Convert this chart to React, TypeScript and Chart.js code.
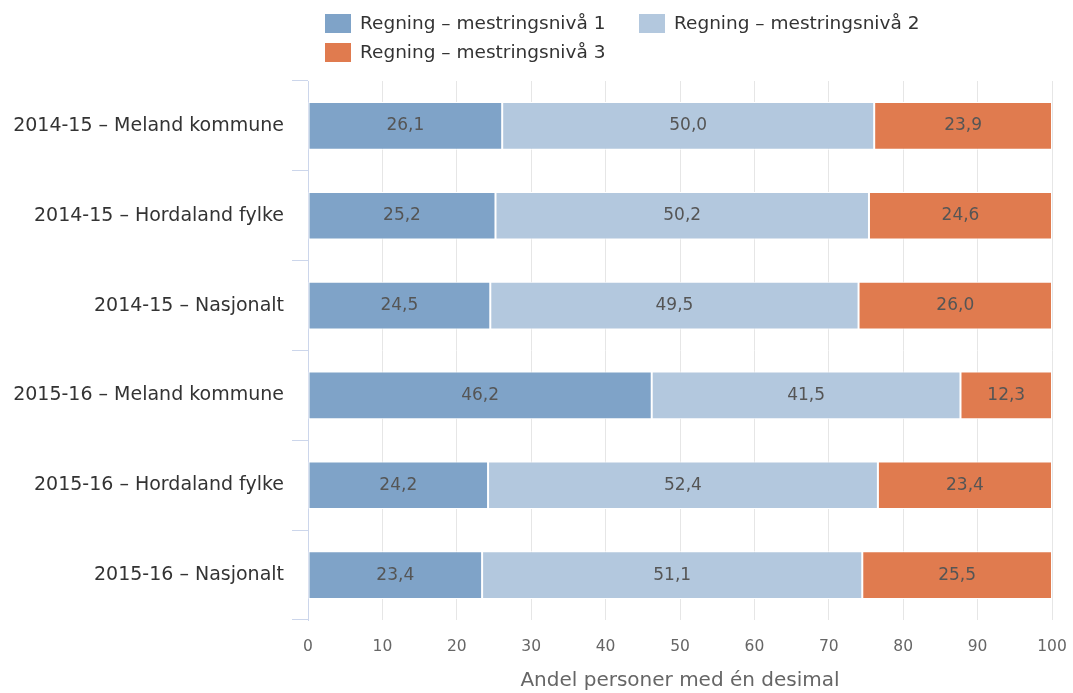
import { useEffect, useRef } from "react";
import { Chart, registerables } from "chart.js";

Chart.register(...registerables);

const categories = [
  "2014-15 – Meland kommune",
  "2014-15 – Hordaland fylke",
  "2014-15 – Nasjonalt",
  "2015-16 – Meland kommune",
  "2015-16 – Hordaland fylke",
  "2015-16 – Nasjonalt",
];
const seriesNames = [
  "Regning – mestringsnivå 1",
  "Regning – mestringsnivå 2",
  "Regning – mestringsnivå 3",
];
const level1 = [26.1, 25.2, 24.5, 46.2, 24.2, 23.4];
const level2 = [50.0, 50.2, 49.5, 41.5, 52.4, 51.1];
const level3 = [23.9, 24.6, 26.0, 12.3, 23.4, 25.5];
const seriesColors = ["#7fa3c8", "#b3c8de", "#e07b4f"];
const xAxisTitle = "Andel personer med én desimal";

const FONT = "'DejaVu Sans', sans-serif";

const legendPlugin = {
  id: "customLegend",
  afterDraw(chart: any) {
    const ctx = chart.ctx;
    const items = chart.data.datasets.map((d: any) => ({ label: d.label, color: d.backgroundColor }));
    const positions = [
      { x: 325, y: 14 },
      { x: 639, y: 14 },
      { x: 325, y: 43 },
    ];
    ctx.save();
    ctx.font = `18.5px ${FONT}`;
    ctx.textBaseline = "middle";
    ctx.textAlign = "left";
    items.forEach((it: any, i: number) => {
      const p = positions[i];
      ctx.fillStyle = it.color;
      ctx.fillRect(p.x, p.y, 26, 19);
      ctx.fillStyle = "#333333";
      ctx.fillText(it.label, p.x + 35, p.y + 10);
    });
    ctx.restore();
  },
};

const dataLabelPlugin = {
  id: "dataLabels",
  afterDatasetsDraw(chart: any) {
    const ctx = chart.ctx;
    ctx.save();
    ctx.font = `17px ${FONT}`;
    ctx.textAlign = "center";
    ctx.textBaseline = "middle";
    ctx.fillStyle = "#555555";
    chart.data.datasets.forEach((ds: any, di: number) => {
      const meta = chart.getDatasetMeta(di);
      meta.data.forEach((el: any, i: number) => {
        const v = ds.data[i] as number;
        const txt = v.toFixed(1).replace(".", ",");
        ctx.fillText(txt, (el.x + el.base) / 2, el.y);
      });
    });
    ctx.restore();
  },
};

export default function App() {
  const canvasRef = useRef<HTMLCanvasElement | null>(null);

  useEffect(() => {
    document.body.style.margin = "0";
    const canvas = canvasRef.current!;
    const chart = new Chart(canvas, {
      type: "bar",
      data: {
        labels: categories,
        datasets: [
          { label: seriesNames[0], data: level1, backgroundColor: seriesColors[0] },
          { label: seriesNames[1], data: level2, backgroundColor: seriesColors[1] },
          { label: seriesNames[2], data: level3, backgroundColor: seriesColors[2] },
        ].map((d) => ({
          ...d,
          borderColor: "#ffffff",
          borderWidth: 1,
          borderSkipped: false,
          barPercentage: 1,
          categoryPercentage: 0.53,
        })),
      },
      options: {
        indexAxis: "y",
        animation: false,
        responsive: false,
        maintainAspectRatio: false,
        layout: { padding: { top: 81, right: 21, bottom: 0, left: 0 } },
        plugins: {
          legend: { display: false },
          tooltip: { enabled: false },
          title: { display: false },
        },
        scales: {
          x: {
            stacked: true,
            min: 0,
            max: 100,
            ticks: {
              stepSize: 10,
              color: "#666666",
              font: { family: FONT, size: 15.5 },
              padding: 18,
            },
            grid: { color: "#e6e6e6", drawTicks: false },
            border: { display: false },
            title: {
              display: true,
              text: xAxisTitle,
              color: "#666666",
              font: { family: FONT, size: 20 },
              padding: { top: 8, bottom: 0 },
            },
            afterFit(scale: any) {
              scale.height = 73;
              scale.paddingRight = 0;
              scale.paddingLeft = 0;
            },
          },
          y: {
            stacked: true,
            ticks: {
              color: "#333333",
              font: { family: FONT, size: 19 },
              padding: 8,
            },
            grid: {
              drawOnChartArea: false,
              offset: true,
              tickLength: 16,
              color: "#ccd6eb",
            },
            border: { color: "#ccd6eb" },
            afterFit(scale: any) {
              scale.width = 308;
              scale.paddingTop = 0;
              scale.paddingBottom = 0;
            },
          },
        },
      },
      plugins: [legendPlugin, dataLabelPlugin],
    } as any);
    return () => chart.destroy();
  }, []);

  return (
    <div style={{ position: "absolute", left: 0, top: 0, width: 1073, height: 693, background: "#fff" }}>
      <canvas ref={canvasRef} width={1073} height={693} style={{ width: 1073, height: 693 }} />
    </div>
  );
}
